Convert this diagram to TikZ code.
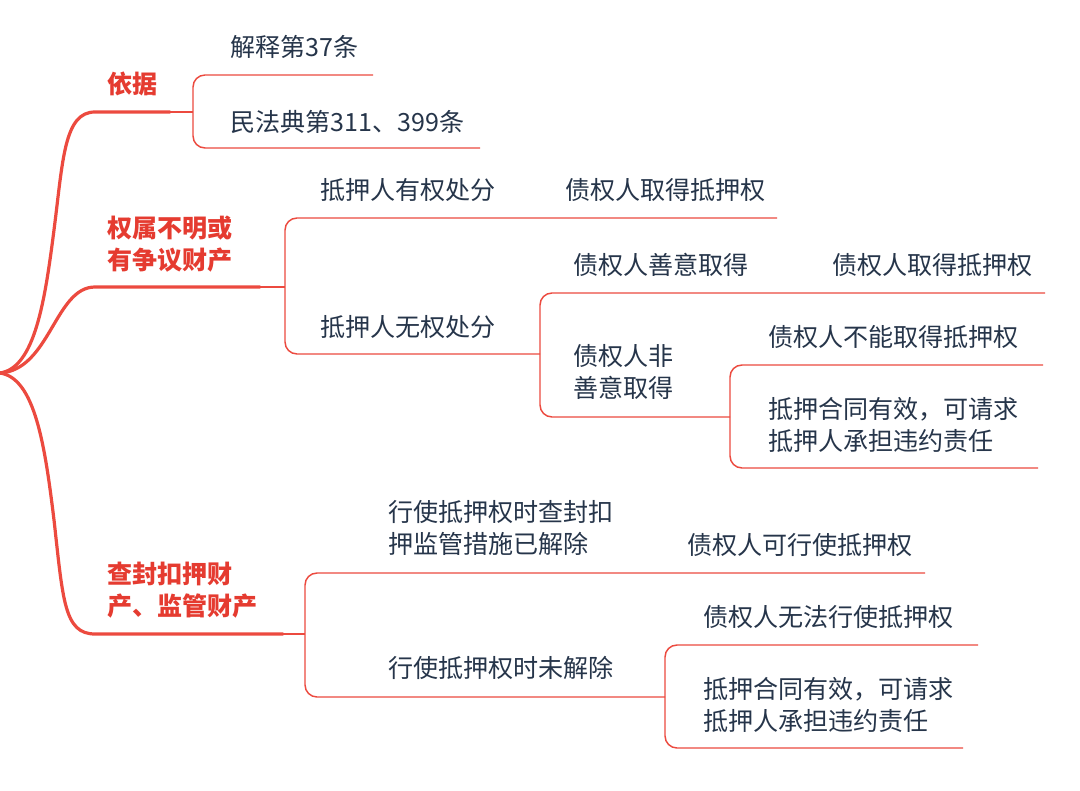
\documentclass[tikz,border=0pt]{standalone}
\usepackage{fontspec}
\setmainfont{Noto Sans CJK SC}
\definecolor{lred}{HTML}{EC4A3F}
\definecolor{tred}{HTML}{E53B30}
\definecolor{ink}{HTML}{26354A}
\begin{document}
\begin{tikzpicture}[x=0.75pt,y=-0.75pt,
 txt/.style={anchor=west,inner sep=0pt,text=ink,font=\fontsize{18.8}{24}\selectfont,align=left},
 lbl/.style={anchor=west,inner sep=0pt,text=tred,font=\fontsize{18.8}{24}\selectfont\bfseries,align=left},
 mainline/.style={draw=lred,line width=2.4pt,line cap=round},
 subline/.style={draw=lred,line width=1.1pt,rounded corners=9pt}]
\useasboundingbox[fill=white] (0,0) rectangle (1080,791);

% ---- text nodes
\node[lbl] (L1) at (107,84) {依据};
\node[txt] (t1a) at (230,47) {解释第37条};
\node[txt] (t1b) at (230,122) {民法典第311、399条};

\node[lbl] (L2) at (107,244) {权属不明或\\有争议财产};
\node[txt] (t2a) at (320,190) {抵押人有权处分};
\node[txt] (t2a2) at (565,190) {债权人取得抵押权};
\node[txt] (t2b) at (320,327) {抵押人无权处分};
\node[txt] (t3a) at (573,265) {债权人善意取得};
\node[txt] (t3a2) at (832,265) {债权人取得抵押权};
\node[txt] (t3b) at (573,372) {债权人非\\善意取得};
\node[txt] (t4a) at (768,337) {债权人不能取得抵押权};
\node[txt] (t4b) at (768,425) {抵押合同有效，可请求\\抵押人承担违约责任};

\node[lbl] (L3) at (107,590) {查封扣押财\\产、监管财产};
\node[txt] (t5a) at (388,528) {行使抵押权时查封扣\\押监管措施已解除};
\node[txt] (t5a2) at (687,545) {债权人可行使抵押权};
\node[txt] (t5b) at (388,668) {行使抵押权时未解除};
\node[txt] (t6a) at (703,617) {债权人无法行使抵押权};
\node[txt] (t6b) at (703,705) {抵押合同有效，可请求\\抵押人承担违约责任};

% ---- coordinates
\coordinate (root) at (0,373);
\coordinate (m1) at (170,112);
\coordinate (m2) at (260,287);
\coordinate (m3) at (283,634);

% ---- main branches
\path[mainline] (root) .. controls (35,368) and (45,300) .. (54,230)
  .. controls (63,160) and (64,112) .. (95,112) -- (m1);
\path[mainline] (root) .. controls (50,370) and (55,287) .. (95,287) -- (m2);
\path[mainline] (root) .. controls (35,378) and (45,446) .. (54,520)
  .. controls (63,600) and (64,634) .. (95,634) -- (m3);

% ---- bracket A (依据)
\path[subline] (m1) -- (193,112);
\path[subline] (373,75) -- (193,75) -- (193,148) -- (480,148);

% ---- bracket B
\path[subline] (m2) -- (285,287);
\path[subline] (777,218) -- (285,218) -- (285,354) -- (540,354);
% ---- bracket C
\path[subline] (1045,293) -- (540,293) -- (540,417) -- (730,417);
% ---- bracket D
\path[subline] (1043,365) -- (730,365) -- (730,468) -- (1038,468);

% ---- bracket E
\path[subline] (m3) -- (305,634);
\path[subline] (925,573) -- (305,573) -- (305,697) -- (665,697);
% ---- bracket F
\path[subline] (978,645) -- (665,645) -- (665,748) -- (963,748);
\end{tikzpicture}
\end{document}
